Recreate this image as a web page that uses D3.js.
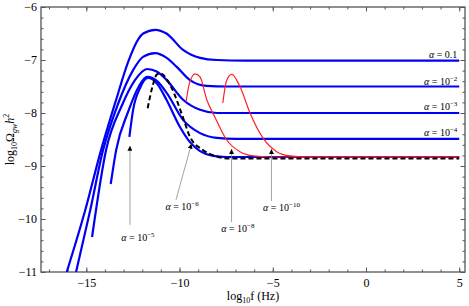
<!DOCTYPE html>
<html>
<head>
<meta charset="utf-8">
<script src="https://cdn.jsdelivr.net/npm/d3@7"></script>
<style>
  body { margin: 0; background: #fff; }
  svg text { font-family: "Liberation Serif", "DejaVu Serif", serif; }
</style>
</head>
<body>
<svg id="chart" width="469" height="306"></svg>
<script>
// log10 f (Hz), log10 Omega_gw h^2
var alpha1e1 = [[-16.05,-11.0],[-15.07,-9.85],[-14.21,-8.70],[-13.4,-7.75],[-12.76,-7.04],[-12.2,-6.6],[-11.95,-6.5],[-11.3,-6.43],[-10.7,-6.5],[-9.81,-6.81],[-8.9,-6.96],[-8.0,-7.0],[-6.5,-7.01],[5,-7.01]];
var alpha1e2 = [[-15.55,-11.0],[-14.8,-9.85],[-14.1,-8.70],[-13.3,-7.83],[-12.49,-7.19],[-11.96,-6.94],[-11.31,-6.87],[-10.69,-6.96],[-10.15,-7.13],[-9.44,-7.38],[-8.54,-7.49],[-7.5,-7.5],[5,-7.5]];
var alpha1e3 = [[-14.69,-10.34],[-13.94,-8.70],[-13.08,-7.85],[-12.39,-7.38],[-11.74,-7.17],[-11.2,-7.22],[-10.69,-7.38],[-9.81,-7.75],[-8.9,-7.94],[-8.0,-8.0],[-7.0,-8.0],[5,-8.0]];
var alpha1e4 = [[-13.69,-9.34],[-13.4,-8.70],[-12.76,-7.98],[-12.17,-7.49],[-11.74,-7.32],[-11.2,-7.4],[-10.69,-7.62],[-9.81,-8.13],[-8.9,-8.38],[-8.0,-8.47],[-7.0,-8.49],[5,-8.49]];
var alpha1e5 = [[-12.69,-8.45],[-12.49,-7.94],[-12.12,-7.53],[-11.69,-7.34],[-11.2,-7.45],[-10.7,-7.75],[-10.0,-8.25],[-9.44,-8.55],[-8.9,-8.72],[-8.2,-8.81],[-7.5,-8.83],[5,-8.83]];
var alpha1e6 = [[-11.71,-7.91],[-11.45,-7.5],[-11.23,-7.28],[-11.05,-7.25],[-10.42,-7.53],[-9.80,-8.10],[-9.44,-8.45],[-8.74,-8.70],[-8.0,-8.82],[-7.29,-8.86],[5,-8.86]];
var alpha1e8 = [[-9.65,-7.79],[-9.49,-7.47],[-9.17,-7.26],[-8.90,-7.32],[-8.54,-7.75],[-8.10,-8.08],[-7.47,-8.51],[-6.76,-8.73],[-6.04,-8.81],[-5.15,-8.83],[5,-8.83]];
var alpha1e10 = [[-7.68,-7.81],[-7.47,-7.38],[-7.2,-7.27],[-6.76,-7.50],[-6.22,-8.0],[-5.51,-8.48],[-4.79,-8.73],[-4.08,-8.81],[-3.2,-8.83],[5,-8.83]];

var blueSeries = [alpha1e1, alpha1e2, alpha1e3, alpha1e4, alpha1e5];
var redSeries = [alpha1e8, alpha1e10];

var xMajor = [-15, -10, -5, 0, 5];
var yMajor = [-11, -10, -9, -8, -7, -6];

// right-hand labels: text, exponent, anchor (log f, log Omega)
var rightLabels = [["0.1", null, 4.9, -6.96], ["10", "\u22122", 4.9, -7.47], ["10", "\u22123", 4.9, -7.94], ["10", "\u22124", 4.9, -8.43]];
// arrow labels: exponent, label centre, arrow tail, arrow tip
var arrowLabels = [
  ["\u22125", [-12.23, -10.41], [-12.66, -10.11], [-12.66, -8.62]],
  ["\u22126", [-9.86, -9.83], [-10.19, -9.64], [-9.36, -8.58]],
  ["\u22128", [-6.87, -10.24], [-7.21, -10.06], [-7.21, -8.68]],
  ["\u221210", [-4.53, -9.84], [-5.07, -9.66], [-5.07, -8.68]]
];

var svg = d3.select("#chart");
var pLeft = 41, pRight = 465, pTop = 7, pBottom = 272;

var x = d3.scaleLinear().domain([-17.43, 5.31]).range([pLeft, pRight]);
var y = d3.scaleLinear().domain([-11, -6]).range([pBottom, pTop]);

var fmt = function(d) { return d < 0 ? "\u2212" + Math.abs(d) : "" + d; };
var frameColor = "#555";

var defs = svg.append("defs");
defs.append("clipPath").attr("id", "plotclip")
  .append("rect").attr("x", pLeft).attr("y", pTop).attr("width", pRight - pLeft).attr("height", pBottom - pTop);

defs.append("marker")
  .attr("id", "head").attr("viewBox", "0 0 10 10").attr("refX", 10).attr("refY", 5)
  .attr("markerWidth", 5).attr("markerHeight", 5).attr("markerUnits", "userSpaceOnUse")
  .attr("orient", "auto")
  .append("path").attr("d", "M0,0L10,5L0,10z").attr("fill", "#000");

function styleAxis(g) {
  g.select(".domain").remove();
  g.selectAll(".tick line").attr("stroke", frameColor);
  g.selectAll("text").attr("fill", "#000").style("font-size", "12px")
    .style("font-family", "Liberation Serif, serif");
}

var xMinor = d3.range(-17, 6, 1);
var yMinor = d3.range(-11, -5.99, 0.2);

// bottom
svg.append("g").attr("transform", "translate(0," + pBottom + ")")
  .call(d3.axisBottom(x).tickValues(xMinor).tickSize(-2.5).tickFormat(""))
  .call(styleAxis);
svg.append("g").attr("transform", "translate(0," + pBottom + ")")
  .call(d3.axisBottom(x).tickValues(xMajor).tickSizeInner(-4.5).tickSizeOuter(0).tickPadding(6).tickFormat(fmt))
  .call(styleAxis);
// top
svg.append("g").attr("transform", "translate(0," + pTop + ")")
  .call(d3.axisTop(x).tickValues(xMinor).tickSize(-2.5).tickFormat(""))
  .call(styleAxis);
svg.append("g").attr("transform", "translate(0," + pTop + ")")
  .call(d3.axisTop(x).tickValues(xMajor).tickSize(-4.5).tickFormat(""))
  .call(styleAxis);
// left
svg.append("g").attr("transform", "translate(" + pLeft + ",0)")
  .call(d3.axisLeft(y).tickValues(yMinor).tickSize(-2.5).tickFormat(""))
  .call(styleAxis);
svg.append("g").attr("transform", "translate(" + pLeft + ",0)")
  .call(d3.axisLeft(y).tickValues(yMajor).tickSizeInner(-4.5).tickSizeOuter(0).tickPadding(4).tickFormat(fmt))
  .call(styleAxis);
// right
svg.append("g").attr("transform", "translate(" + pRight + ",0)")
  .call(d3.axisRight(y).tickValues(yMinor).tickSize(-2.5).tickFormat(""))
  .call(styleAxis);
svg.append("g").attr("transform", "translate(" + pRight + ",0)")
  .call(d3.axisRight(y).tickValues(yMajor).tickSize(-4.5).tickFormat(""))
  .call(styleAxis);

svg.append("rect")
  .attr("x", pLeft).attr("y", pTop).attr("width", pRight - pLeft).attr("height", pBottom - pTop)
  .attr("fill", "none").attr("stroke", frameColor).attr("stroke-width", 1.3);

var line = d3.line()
  .x(function(d) { return x(d[0]); })
  .y(function(d) { return y(d[1]); })
  .curve(d3.curveMonotoneX);

var plot = svg.append("g").attr("clip-path", "url(#plotclip)");

plot.selectAll(".blue").data(blueSeries).enter().append("path")
  .attr("class", "blue")
  .attr("d", line)
  .attr("fill", "none").attr("stroke", "#0000f5").attr("stroke-width", 2.2);

plot.selectAll(".red").data(redSeries).enter().append("path")
  .attr("class", "red")
  .attr("d", line)
  .attr("fill", "none").attr("stroke", "#ff2020").attr("stroke-width", 1.2);

plot.append("path")
  .attr("d", line(alpha1e6))
  .attr("fill", "none").attr("stroke", "#000").attr("stroke-width", 2)
  .attr("stroke-dasharray", "5,3");

// arrows
plot.selectAll(".arrow").data(arrowLabels).enter().append("line")
  .attr("class", "arrow")
  .attr("x1", function(d) { return x(d[2][0]); })
  .attr("y1", function(d) { return y(d[2][1]); })
  .attr("x2", function(d) { return x(d[3][0]); })
  .attr("y2", function(d) { return y(d[3][1]); })
  .attr("stroke", "#8a8a8a").attr("stroke-width", 0.8)
  .attr("marker-end", "url(#head)");

function alphaText(sel, base, sup) {
  sel.append("tspan").style("font-style", "italic").text("\u03b1");
  sel.append("tspan").text(" = " + base);
  if (sup) {
    sel.append("tspan").attr("dy", -4).style("font-size", "7px").text(sup);
  }
}

arrowLabels.forEach(function(d) {
  var t = svg.append("text")
    .attr("x", x(d[1][0])).attr("y", y(d[1][1]))
    .attr("text-anchor", "middle")
    .style("font-size", "10px");
  alphaText(t, "10", d[0]);
});

rightLabels.forEach(function(d) {
  var t = svg.append("text")
    .attr("x", x(d[2])).attr("y", y(d[3]))
    .attr("text-anchor", "end")
    .style("font-size", "10px");
  alphaText(t, d[0], d[1]);
});

// axis titles
var xt = svg.append("text")
  .attr("x", (pLeft + pRight) / 2).attr("y", 300)
  .attr("text-anchor", "middle").style("font-size", "12px");
xt.append("tspan").text("log");
xt.append("tspan").attr("dy", 3).style("font-size", "8px").text("10");
xt.append("tspan").attr("dy", -3).text("f (Hz)");

var yt = svg.append("text")
  .attr("transform", "translate(14," + ((pTop + pBottom) / 2) + ") rotate(-90)")
  .attr("text-anchor", "middle").style("font-size", "12px");
yt.append("tspan").text("log");
yt.append("tspan").attr("dy", 3).style("font-size", "8px").text("10");
yt.append("tspan").attr("dy", -3).text("\u03a9");
yt.append("tspan").attr("dy", 3).style("font-size", "8px").style("font-style", "italic").text("gw");
yt.append("tspan").attr("dy", -3).style("font-style", "italic").text("h");
yt.append("tspan").attr("dy", -5).style("font-size", "8px").text("2");
</script>
</body>
</html>
